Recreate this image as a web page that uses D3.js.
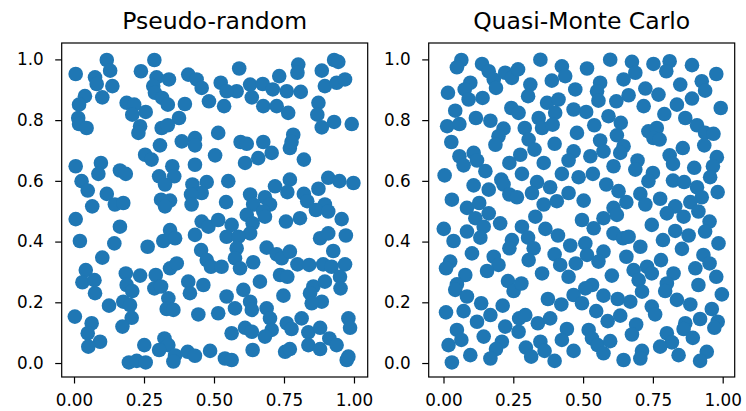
<!DOCTYPE html>
<html>
<head>
<meta charset="utf-8">
<script src="https://cdn.jsdelivr.net/npm/d3@7"></script>
<style>
  body { margin: 0; background: #fff; }
  svg { display: block; }
  text { font-family: "DejaVu Sans", sans-serif; fill: #000; }
</style>
</head>
<body>
<div id="chart"></div>
<script>
// values, [x, y]
const pseudoX = [0.117,0.129,0.006,0.075,0.081,0.137,0.101,0.039,0.018,0.015,0.018,0.045,0.287,0.239,0.295,0.339,0.283,0.289,0.315,0.335,0.408,0.438,0.456,0.482,0.396,0.188,0.215,0.208,0.256,0.375,0.236,0.230,0.313,0.335,0.307,0.385,0.432,0.432,0.254,0.277,0.006,0.096,0.087,0.164,0.185,0.027,0.049,0.117,0.065,0.146,0.176,0.351,0.304,0.358,0.325,0.432,0.423,0.474,0.456,0.418,0.311,0.343,0.420,0.325,
  0.929,0.944,0.590,0.801,0.798,0.885,0.733,0.524,0.629,0.674,0.581,0.545,0.710,0.760,0.810,0.896,0.938,0.968,0.635,0.676,0.724,0.765,0.536,0.873,0.869,0.885,0.929,0.992,0.515,0.595,0.617,0.676,0.706,0.658,0.611,0.771,0.783,0.777,0.821,0.504,0.551,0.543,0.629,0.682,0.718,0.771,0.762,0.821,0.833,0.873,0.908,0.948,0.998,0.896,0.640,0.700,
  0.006,0.164,0.021,0.144,0.101,0.263,0.319,0.343,0.361,0.432,0.456,0.480,0.454,0.474,0.489,0.042,0.030,0.073,0.075,0.185,0.236,0.188,0.208,0.292,0.287,0.311,0.343,0.367,0.408,0.414,0.462,0.337,0.331,0.355,0.125,0.176,0.200,0.206,0.173,0.003,0.063,0.049,0.093,0.051,0.251,0.323,0.337,0.304,0.196,0.224,0.256,0.361,0.355,0.406,0.432,0.444,0.486,
  0.515,0.563,0.617,0.638,0.676,0.682,0.629,0.545,0.587,0.581,0.575,0.527,0.593,0.640,0.688,0.724,0.742,0.771,0.798,0.840,0.890,0.920,0.968,0.757,0.807,0.864,0.908,0.956,0.879,0.908,0.971,0.926,0.664,0.736,0.762,0.748,0.855,0.843,0.896,0.885,0.849,0.950,0.952,0.605,0.545,0.575,0.515,0.629,0.635,0.688,0.700,0.706,0.682,0.611,0.635,0.563,0.638,0.539,0.563,0.760,0.777,0.813,0.837,0.837,0.879,0.879,0.912,0.938,0.980,0.986,0.974,0.980,0.754,0.771];
const pseudoY = [0.998,0.963,0.952,0.941,0.919,0.912,0.875,0.879,0.851,0.807,0.787,0.774,0.998,0.961,0.941,0.934,0.912,0.890,0.873,0.851,0.950,0.934,0.906,0.862,0.853,0.857,0.851,0.818,0.827,0.807,0.780,0.758,0.774,0.783,0.717,0.730,0.741,0.717,0.686,0.670,0.648,0.659,0.623,0.634,0.623,0.599,0.568,0.557,0.516,0.522,0.527,0.648,0.615,0.615,0.588,0.653,0.588,0.596,0.560,0.555,0.538,0.535,0.522,0.516,
  0.998,0.992,0.970,0.983,0.956,0.963,0.945,0.923,0.917,0.919,0.895,0.895,0.901,0.895,0.893,0.912,0.923,0.934,0.875,0.846,0.846,0.824,0.846,0.857,0.818,0.776,0.794,0.787,0.758,0.728,0.722,0.728,0.692,0.675,0.659,0.708,0.752,0.728,0.670,0.684,0.599,0.530,0.555,0.546,0.582,0.604,0.563,0.557,0.533,0.574,0.610,0.599,0.593,0.522,0.522,0.522,
  0.474,0.449,0.402,0.394,0.347,0.383,0.402,0.438,0.411,0.422,0.466,0.449,0.372,0.339,0.317,0.306,0.266,0.273,0.230,0.295,0.288,0.257,0.237,0.290,0.246,0.252,0.312,0.328,0.268,0.230,0.257,0.213,0.178,0.175,0.189,0.202,0.191,0.149,0.120,0.153,0.131,0.098,0.070,0.054,0.059,0.081,0.059,0.043,0.002,0.007,0.002,0.025,0.005,0.037,0.024,0.160,0.040,
  0.471,0.455,0.488,0.460,0.499,0.482,0.427,0.416,0.416,0.378,0.345,0.317,0.312,0.332,0.380,0.358,0.345,0.367,0.325,0.323,0.325,0.317,0.325,0.466,0.477,0.504,0.499,0.474,0.411,0.427,0.420,0.369,0.268,0.290,0.284,0.222,0.252,0.230,0.268,0.202,0.197,0.284,0.246,0.241,0.219,0.180,0.164,0.202,0.175,0.180,0.147,0.109,0.087,0.116,0.103,0.098,0.043,0.015,0.010,0.131,0.112,0.147,0.101,0.059,0.116,0.046,0.081,0.059,0.147,0.116,0.010,0.021,0.037,0.046];

const quasiX = [0.064,0.048,0.138,0.162,0.180,0.188,0.221,0.245,0.267,0.347,0.424,0.436,0.388,0.311,0.303,0.472,0.096,0.076,0.090,0.140,0.016,0.042,0.013,0.057,0.116,0.168,0.243,0.269,0.371,0.412,0.400,0.466,0.341,0.353,0.391,0.291,0.305,0.326,0.215,0.197,0.186,0.028,0.398,0.478,0.466,0.448,0.275,0.236,0.359,0.057,0.072,0.108,0.120,0.150,0.004,0.281,0.207,0.215,0.108,0.162,0.236,0.263,0.335,0.317,0.382,0.424,0.448,0.484,0.030,0.084,0.128,0.359,0.406,
  0.597,0.514,0.675,0.687,0.645,0.752,0.810,0.798,0.890,0.977,0.925,0.937,0.848,0.890,0.836,0.866,0.993,0.723,0.770,0.717,0.791,0.663,0.619,0.561,0.550,0.555,0.511,0.591,0.635,0.540,0.621,0.561,0.573,0.645,0.633,0.734,0.764,0.752,0.774,0.908,0.937,0.967,0.934,0.857,0.810,0.822,0.979,0.965,0.898,0.955,0.526,0.609,0.695,0.687,0.750,0.734,0.535,0.583,0.627,0.705,0.776,0.822,0.862,0.908,0.925,0.982,0.884,0.502,0.655,0.723,0.830,0.609,
  0.114,0.144,0.162,0.203,0.001,0.084,0.036,0.132,0.102,0.180,0.197,0.024,0.009,0.078,0.048,0.042,0.156,0.231,0.251,0.279,0.245,0.236,0.281,0.303,0.323,0.305,0.329,0.365,0.410,0.454,0.398,0.418,0.448,0.474,0.353,0.084,0.072,0.009,0.135,0.168,0.212,0.120,0.048,0.064,0.018,0.030,0.096,0.144,0.209,0.188,0.168,0.221,0.269,0.271,0.293,0.338,0.382,0.374,0.422,0.466,0.442,0.424,0.347,0.362,0.295,0.314,0.398,0.466,
  0.621,0.496,0.573,0.538,0.609,0.643,0.663,0.746,0.800,0.860,0.913,0.953,0.937,0.830,0.878,0.786,0.854,0.985,0.705,0.655,0.573,0.508,0.514,0.555,0.681,0.699,0.729,0.746,0.711,0.779,0.824,0.800,0.794,0.931,0.953,0.902,0.977,0.913,0.997,0.603,0.532,0.508,0.496,0.573,0.624,0.669,0.836,0.884,0.961,0.746,0.758,0.547,0.588,0.633,0.919,0.982,0.970,0.866,0.860,0.690,0.675,0.800,0.818,0.776,0.893,0.520,0.532,0.552,0.573,0.597,0.645,0.711,0.705,0.842,0.943,0.919];
const quasiY = [0.998,0.974,0.985,0.961,0.934,0.906,0.956,0.939,0.967,0.999,0.977,0.945,0.930,0.917,0.879,0.901,0.923,0.901,0.868,0.873,0.890,0.831,0.780,0.787,0.807,0.798,0.840,0.824,0.857,0.868,0.824,0.835,0.807,0.774,0.785,0.774,0.736,0.703,0.772,0.747,0.719,0.728,0.722,0.758,0.697,0.667,0.686,0.659,0.659,0.681,0.651,0.692,0.667,0.632,0.618,0.623,0.604,0.588,0.585,0.571,0.555,0.546,0.596,0.560,0.579,0.623,0.560,0.612,0.538,0.511,0.527,0.522,0.533,
  0.999,0.970,0.992,0.956,0.934,0.985,0.994,0.961,0.981,0.952,0.928,0.897,0.917,0.871,0.851,0.807,0.840,0.904,0.884,0.846,0.820,0.882,0.862,0.923,0.895,0.864,0.827,0.813,0.791,0.783,0.750,0.733,0.697,0.714,0.692,0.763,0.774,0.741,0.736,0.783,0.758,0.755,0.717,0.708,0.684,0.656,0.678,0.648,0.643,0.612,0.681,0.648,0.667,0.637,0.626,0.599,0.623,0.588,0.566,0.557,0.541,0.601,0.596,0.579,0.546,0.563,0.530,0.535,0.530,0.522,0.516,0.511,
  0.477,0.449,0.493,0.460,0.442,0.433,0.402,0.413,0.361,0.350,0.323,0.334,0.312,0.290,0.259,0.241,0.303,0.270,0.237,0.262,0.405,0.378,0.449,0.413,0.378,0.339,0.482,0.442,0.420,0.387,0.358,0.323,0.284,0.328,0.295,0.219,0.171,0.167,0.197,0.158,0.189,0.136,0.109,0.076,0.059,0.002,0.026,0.087,0.070,0.046,0.015,0.120,0.103,0.147,0.158,0.131,0.147,0.211,0.193,0.224,0.112,0.076,0.070,0.040,0.051,0.021,0.007,0.040,
  0.488,0.471,0.477,0.444,0.427,0.411,0.416,0.455,0.493,0.482,0.499,0.466,0.433,0.435,0.420,0.405,0.376,0.394,0.383,0.350,0.367,0.394,0.356,0.334,0.306,0.273,0.317,0.295,0.235,0.339,0.295,0.262,0.237,0.356,0.328,0.312,0.284,0.257,0.226,0.288,0.257,0.246,0.197,0.222,0.211,0.202,0.208,0.193,0.178,0.186,0.160,0.171,0.138,0.156,0.145,0.136,0.116,0.131,0.112,0.127,0.094,0.098,0.068,0.054,0.083,0.109,0.081,0.059,0.032,0.072,0.010,0.040,0.015,0.026,0.037,0.007];

const titles = ["Pseudo-random", "Quasi-Monte Carlo"];
const xTicks = [0, 0.25, 0.5, 0.75, 1];
const yTicks = [0, 0.2, 0.4, 0.6, 0.8, 1];

const width = 746, height = 411;
const svg = d3.select("#chart").append("svg")
    .attr("width", width).attr("height", height)
    .attr("viewBox", `0 0 ${width} ${height}`)

const panels = [
  {title: titles[0], xs: pseudoX, ys: pseudoY, left: 61.7, xDomain: [-0.044, 1.049]},
  {title: titles[1], xs: quasiX, ys: quasiY, left: 428.7, xDomain: [-0.053, 1.043]}
]
const panelW = 306, plotTop = 43, plotBottom = 377

const y = d3.scaleLinear().domain([-0.046, 1.054]).range([plotBottom, plotTop])

panels.forEach(p => {
    const x = d3.scaleLinear().domain(p.xDomain).range([p.left, p.left + panelW])
    const g = svg.append("g")
    const data = p.xs.map((v, i) => ({x: v, y: p.ys[i]}))

    g.selectAll("circle").data(data).enter().append("circle")
        .attr("cx", d => x(d.x))
        .attr("cy", d => y(d.y))
        .attr("r", 7.3)
        .attr("fill", "#1f77b4")

    // frame
    g.append("rect")
        .attr("x", p.left).attr("y", plotTop)
        .attr("width", panelW).attr("height", plotBottom - plotTop)
        .attr("fill", "none").attr("stroke", "#000").attr("stroke-width", 1.2)

    const xAxis = g.append("g").attr("transform", `translate(0,${plotBottom})`)
        .call(d3.axisBottom(x).tickValues(xTicks).tickFormat(d3.format(".2f")).tickSize(6.5).tickPadding(11).tickSizeOuter(0))
    const yAxis = g.append("g").attr("transform", `translate(${p.left},0)`)
        .call(d3.axisLeft(y).tickValues(yTicks).tickFormat(d3.format(".1f")).tickSize(6.5).tickPadding(11.5).tickSizeOuter(0))

    ;[xAxis, yAxis].forEach(a => {
        a.select(".domain").remove()
        a.selectAll("line").attr("stroke", "#000").attr("stroke-width", 1.2)
        a.selectAll("text").attr("font-size", 16.8).attr("font-family", "DejaVu Sans").attr("fill", "#000")
    })

    g.append("text")
        .attr("x", p.left + panelW / 2).attr("y", 28.5)
        .attr("text-anchor", "middle")
        .attr("font-size", 23.5)
        .text(p.title)
})
</script>
</body>
</html>
